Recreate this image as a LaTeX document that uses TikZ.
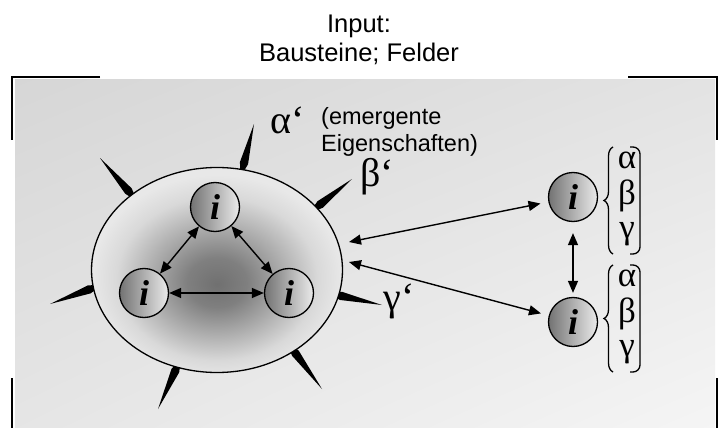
\documentclass[tikz,border=0pt]{standalone}
\usepackage{fontspec}
\setmainfont{Liberation Sans}
\newfontfamily\grk{Liberation Serif}
\usetikzlibrary{arrows.meta,calc,decorations.pathreplacing,shapes.geometric,shadings}

% dark core of the cell, fading out to its border (border sits at 25bp)
\pgfdeclareradialshading{cellshade}{\pgfpoint{0bp}{-3.5bp}}{%
  color(0bp)=(black!56); color(6bp)=(black!50); color(20bp)=(black!15); color(25bp)=(black!9); color(50bp)=(black!9)}

\tikzset{
  unit/.style={circle, draw, line width=1.3pt, minimum size=49pt, inner sep=0pt,
    left color=black!55, right color=black!8,
    font=\grk\bfseries\itshape\fontsize{36}{36}\selectfont},
  dbl/.style={{Triangle[length=12pt,width=10pt]}-{Triangle[length=12pt,width=10pt]}, line width=1.4pt},
  corner/.style={line width=2pt},
  greek/.style={font=\grk\fontsize{35}{35}\selectfont, inner sep=0pt},
  biggreek/.style={font=\grk\fontsize{40}{40}\selectfont, inner sep=0pt},
}

\begin{document}
\begin{tikzpicture}[x=1pt, y=-1pt]
  \useasboundingbox (0,0) rectangle (721,428);
  % grey field with corner marks
  \shade[upper left=black!16, upper right=black!11, lower left=black!10, lower right=black!4]
    (15,80) rectangle (715,428);
  \draw[corner] (100,77) -- (12,77) -- (12,140);
  \draw[corner] (628,77) -- (717,77) -- (717,140);
  \draw[corner] (12,378) -- (12,428);
  \draw[corner] (717,378) -- (717,428);
  \node[align=center, inner sep=0pt, font=\fontsize{25.5}{29}\selectfont] (title) at (359,40)
    {Input:\\Bausteine; Felder};
  % spikes: crossing point on the border / tip
  \foreach \cx/\cy/\tx/\ty in {243/167/254/124, 131/194/100/158, 317/207/352/179,
      93/288/50/304, 337/295/382/305, 177/367/158/409, 293/350/322/389} {
    \coordinate (sw) at ($(\cx,\cy)!4pt!(\tx,\ty)$);
    \fill ($(\cx,\cy)!-10pt!(\tx,\ty)$) -- ($(sw)!4.2pt!90:(\tx,\ty)$)
      .. controls ($(sw)!0.5!(\tx,\ty)!2.2pt!90:(\tx,\ty)$) .. (\tx,\ty)
      .. controls ($(sw)!0.5!(\tx,\ty)!2.2pt!-90:(\tx,\ty)$) .. ($(sw)!4.2pt!-90:(\tx,\ty)$) -- cycle;
  }
  \node[ellipse, draw, line width=1.3pt, minimum width=251pt, minimum height=205pt,
    shade, shading=cellshade] (cell) at (217,270) {};
  % the three units inside
  \node[unit] (top) at (215,207) {i};
  \node[unit] (left) at (144,293) {i};
  \node[unit] (right) at (289,293) {i};
  \draw[dbl] (top) -- (left);
  \draw[dbl] (top) -- (right);
  \draw[dbl] (left) -- (right);
  % emergent properties
  \node[biggreek] (alpha) at (288,120) {α‘};
  \node[biggreek] (beta) at (377,177) {β‘};
  \node[biggreek] (gamma) at (399,301) {γ‘};
  \node[anchor=north west, align=left, inner sep=0pt, font=\fontsize{23.5}{27}\selectfont] (emerg)
    at (321,107) {(emergente\\Eigenschaften)};
  % single units outside
  \node[unit, minimum size=49pt] (ra) at (573,197) {i};
  \node[unit, minimum size=49pt] (rb) at (573,322) {i};
  \coordinate (inA) at (349,242);
  \coordinate (inB) at (349,262);
  \draw[dbl, shorten >=8pt] (inA) -- (ra);
  \draw[dbl, shorten >=8pt] (inB) -- (rb);
  \draw[dbl, shorten <=11pt, shorten >=4pt] (ra) -- (rb);
  \foreach \i/\y in {1/147, 2/265} {
    \draw[line width=1.3pt, decorate, decoration={brace, amplitude=9pt}]
      (613,\y+107) -- (613,\y);
    \draw[line width=1.3pt, rounded corners=7pt] (630,\y) -- (640,\y) -- (640,\y+107) -- (630,\y+107);
    \node[greek] (al\i) at (627,\y+13) {α};
    \node[greek] (be\i) at (627,\y+49) {β};
    \node[greek] (ga\i) at (627,\y+87) {γ};
  }
\end{tikzpicture}
\end{document}
